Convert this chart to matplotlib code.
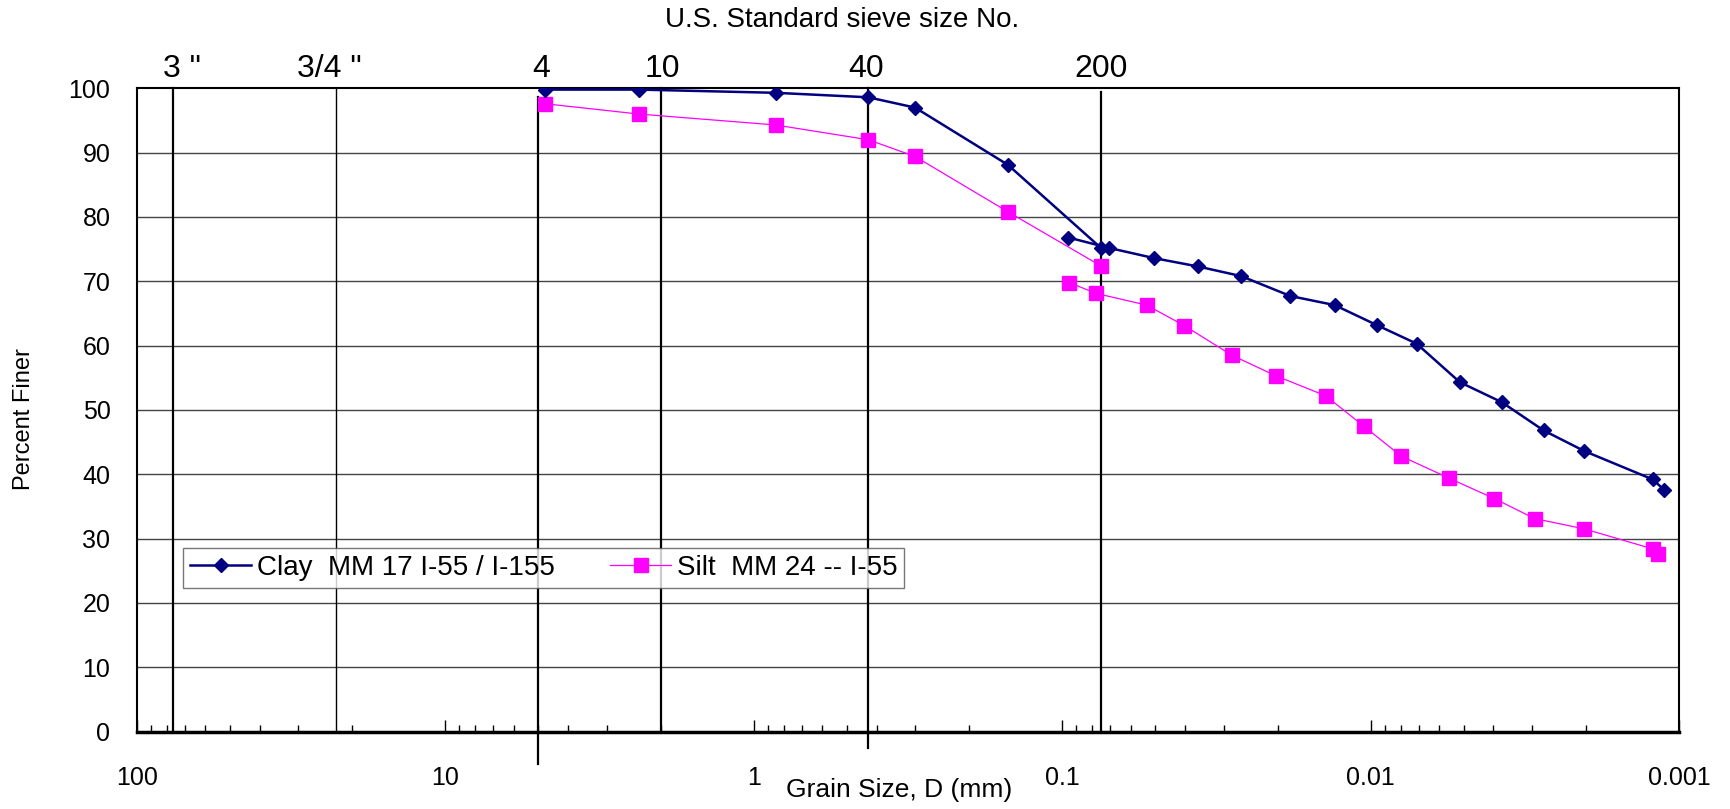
import numpy as np
import matplotlib
matplotlib.use("Agg")
import matplotlib.pyplot as plt
from matplotlib.ticker import LogLocator, NullFormatter

plt.rcParams['font.family'] = ['Liberation Sans', 'DejaVu Sans']

# Clay MM 17 - sieve part and hydrometer part
clay_sieve_d = [4.75, 2.36, 0.85, 0.425, 0.30, 0.15, 0.075]
clay_sieve_p = [99.8, 99.8, 99.3, 98.6, 97.0, 88.1, 75.2]
clay_hyd_d = [0.0955, 0.0708, 0.0504, 0.0363, 0.0263, 0.0182, 0.0131,
              0.00957, 0.0071, 0.00514, 0.00376, 0.00275, 0.00203, 0.00122, 0.00112]
clay_hyd_p = [76.8, 75.2, 73.6, 72.3, 70.8, 67.7, 66.3,
              63.2, 60.3, 54.3, 51.2, 46.8, 43.6, 39.2, 37.6]

# Silt MM 24 - sieve part and hydrometer part
silt_sieve_d = [4.75, 2.36, 0.85, 0.425, 0.30, 0.15, 0.075]
silt_sieve_p = [97.6, 96.0, 94.3, 92.0, 89.4, 80.8, 72.4]
silt_hyd_d = [0.095, 0.0775, 0.0533, 0.0402, 0.0282, 0.0203, 0.0140, 0.01055,
              0.00796, 0.00558, 0.00397, 0.00294, 0.00203, 0.00122, 0.00117]
silt_hyd_p = [69.8, 68.1, 66.3, 63.1, 58.5, 55.3, 52.2, 47.5,
              42.8, 39.4, 36.2, 33.1, 31.5, 28.4, 27.6]

# sieve lines (positions as drawn in the chart)
sieve_labels = ['3 "', '3/4 "', '4', '10', '40', '200']
sieve_mm = [76.5, 22.6, 5.0, 2.0, 0.425, 0.075]

x_ticks = [100, 10, 1, 0.1, 0.01, 0.001]
x_ticklabels = ['100', '10', '1', '0.1', '0.01', '0.001']
y_ticks = [0, 10, 20, 30, 40, 50, 60, 70, 80, 90, 100]

fig = plt.figure(figsize=(17.3, 8.09), dpi=100)
ax = fig.add_axes([136.8 / 1730, 1 - 731.5 / 809, 1542.4 / 1730, 643.2 / 809])

ax.set_xscale('log')
ax.set_xlim(100, 0.001)
ax.set_ylim(0, 100)

# horizontal grid
for yv in y_ticks[1:-1]:
    ax.axhline(yv, color='#444444', lw=1.0, zorder=1)

# sieve lines
line_tops = [100, 100, 98.6, 100, 100, 99.4]
line_lws = [1.6, 1.0, 1.6, 1.6, 1.6, 1.6]
line_bottoms = [0, 0, -5, 0, -2.5, 0]
for d, top, lw, bot in zip(sieve_mm, line_tops, line_lws, line_bottoms):
    ax.plot([d, d], [bot, top], color='black', lw=lw, zorder=2, clip_on=False)

# sieve labels above plot
label_offsets = [7, -5, 2, 1, -2, 0]
for lab, d, off in zip(sieve_labels, sieve_mm, label_offsets):
    ax.annotate(lab, xy=(d, 100), xytext=(off, 3), textcoords='offset points',
                ha='center', va='bottom', fontsize=23, annotation_clip=False)

navy = '#000080'
magenta = '#FF00FF'
ax.plot(clay_sieve_d, clay_sieve_p, color=navy, lw=1.8, marker='D', ms=7.5,
        zorder=4, label='Clay  MM 17 I-55 / I-155')
ax.plot(clay_hyd_d, clay_hyd_p, color=navy, lw=1.8, marker='D', ms=7.5, zorder=4)
ax.plot(silt_sieve_d, silt_sieve_p, color=magenta, lw=0.9, marker='s', ms=9.5,
        zorder=3, label='Silt  MM 24 -- I-55')
ax.plot(silt_hyd_d, silt_hyd_p, color=magenta, lw=0.9, marker='s', ms=9.5, zorder=3)

# axes styling
for side in ['left', 'right', 'top']:
    ax.spines[side].set_linewidth(1.5)
    ax.spines[side].set_color('black')
ax.spines['bottom'].set_linewidth(2.5)

ax.set_xticks(x_ticks)
ax.set_xticklabels(x_ticklabels)
ax.xaxis.set_minor_locator(LogLocator(base=10, subs=np.arange(2, 10)))
ax.xaxis.set_minor_formatter(NullFormatter())
ax.tick_params(axis='x', which='major', direction='in', length=9, width=1,
               pad=25, labelsize=18)
ax.tick_params(axis='x', which='minor', direction='in', length=5, width=1)
ax.set_yticks(y_ticks)
ax.tick_params(axis='y', which='both', length=0, pad=19, labelsize=18)

leg = ax.legend(loc='upper left', bbox_to_anchor=(0.030, 0.2853),
                ncol=2, frameon=True, fancybox=False,
                edgecolor='#555555', fontsize=20, handlelength=2.2,
                handletextpad=0.2, borderaxespad=0, borderpad=0.25,
                columnspacing=2.0)
leg.get_frame().set_linewidth(1.0)

fig.text(842 / 1730, 1 - 20 / 809, 'U.S. Standard sieve size No.',
         ha='center', va='center', fontsize=20)
fig.text(24 / 1730, 1 - 419 / 809, 'Percent Finer', rotation=90,
         ha='center', va='center', fontsize=17)
fig.text(899 / 1730, 1 - 790 / 809, 'Grain Size, D (mm)',
         ha='center', va='center', fontsize=19)

fig.savefig('out.png', dpi=100)
